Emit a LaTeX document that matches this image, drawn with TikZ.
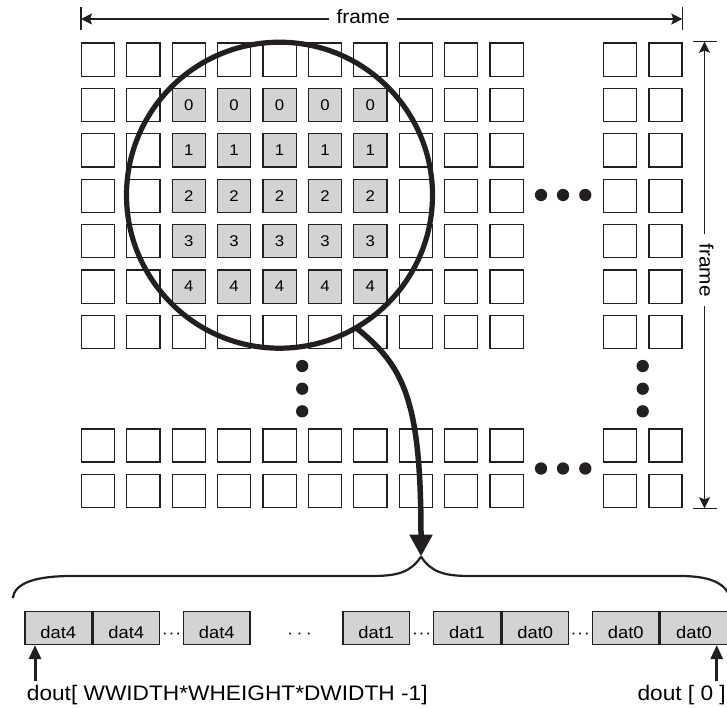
\documentclass[tikz,border=0pt]{standalone}
\usepackage{fontspec}
\setmainfont{Liberation Sans}[FakeStretch=1.08]
\usetikzlibrary{arrows.meta}
\definecolor{ink}{RGB}{35,31,32}
\definecolor{cellfill}{RGB}{210,211,213}

\begin{document}
\begin{tikzpicture}[x=1pt,y=-1pt,
    cell/.style={draw=ink,line width=1.3pt,minimum size=33.2pt,inner sep=0pt,
      font=\fontsize{15.5}{18}\selectfont},
    hot/.style={cell,fill=cellfill},
    blob/.style={circle,fill=ink,inner sep=0pt,minimum size=12.3pt},
    word/.style={draw=ink,line width=1.3pt,fill=cellfill,minimum width=66.7pt,
      minimum height=33pt,inner sep=0pt,text height=21pt,text depth=0pt,
      font=\fontsize{17}{18}\selectfont},
    dotrun/.style={inner sep=0pt,anchor=base,font=\fontsize{16.5}{18}\selectfont},
    lbl/.style={fill=white,text depth=4pt,inner xsep=7.3pt,font=\fontsize{19.3}{22}\selectfont},
    dimline/.style={draw=ink,line width=1.8pt,-{Stealth[length=11pt,width=11pt,inset=2pt]}},
    endbar/.style={draw=ink,line width=1.2pt},
    ptr/.style={draw=ink,line width=3pt,-{Triangle[length=14pt,width=12pt]}}]

\useasboundingbox (0,0) rectangle (727,707);

% pixel array, window rows 1-5 and columns 2-6 in gray
\foreach \i/\u in {0/0,1/1,2/2,3/3,4/4,5/5,6/6,7/7,8/8,9/9,10/11.5,11/12.5}
  \foreach \j/\v in {0/0,1/1,2/2,3/3,4/4,5/5,6/6,7/8.5,8/9.5} {
    \pgfmathtruncatemacro\win{(\i>1)*(\i<7)*(\j>0)*(\j<6)}
    \ifnum\win=1
      \node[hot] (c-\i-\j) at (97.95+45.4*\u,59.55+45.4*\v) {\the\numexpr\j-1\relax};
    \else
      \node[cell] (c-\i-\j) at (97.95+45.4*\u,59.55+45.4*\v) {};
    \fi
  }

% skipped columns and rows
\foreach \n/\x in {1/541,2/563,3/585.3} {
  \node[blob] (rdot-\n) at (\x,195) {};
  \node[blob] (bdot-\n) at (\x,468.5) {};
}
\foreach \n/\y in {1/366,2/388.7,3/411.3} {
  \node[blob] (mdot-\n) at (302.2,\y) {};
  \node[blob] (edot-\n) at (642.7,\y) {};
}

% window circle
\node[circle,draw=ink,line width=5.2pt,minimum size=306pt,inner sep=0pt,outer sep=0pt] (lens) at (279.5,195.2) {};

% frame width
\node[lbl] (fw) at (363.3,19) {frame};
\coordinate (fwl) at (81,19);
\coordinate (fwr) at (682.3,19);
\draw[dimline] (fw) -- (fwl);
\draw[dimline] (fw) -- (fwr);
\draw[endbar] ([yshift=12pt]fwl) -- ([yshift=-11pt]fwl);
\draw[endbar] ([yshift=12pt]fwr) -- ([yshift=-11pt]fwr);

% frame height
\node[lbl,rotate=-90,inner xsep=9pt] (fh) at (704.5,270) {frame};
\coordinate (fht) at (704.5,41.7);
\coordinate (fhb) at (704.5,508.3);
\draw[dimline] (fh) -- (fht);
\draw[dimline] (fh) -- (fhb);
\draw[endbar] ([xshift=-11.5pt]fht) -- ([xshift=12pt]fht);
\draw[endbar] ([xshift=-11.5pt]fhb) -- ([xshift=12pt]fhb);

% output word
\foreach \n/\x/\t in {1/58.2/dat4,2/126.3/dat4,3/216.7/dat4,4/376.2/dat1,
    5/467/dat1,6/535.2/dat0,7/625.7/dat0,8/694/dat0}
  \node[word] (d\n) at (\x,627.9) {\t};
\node[dotrun] (g1) at (171.5,638.3) {·\kern0.8pt·\kern0.8pt·};
\node[dotrun] (g2) at (299.5,638.3) {·\kern3.5pt·\kern3.5pt·};
\node[dotrun] (g3) at (421.7,638.3) {·\kern0.8pt·\kern0.8pt·};
\node[dotrun] (g4) at (580.2,638.3) {·\kern0.8pt·\kern0.8pt·};

% brace and zoom arrow
\coordinate (bracetip) at (421,556.5);
\draw[ink,line width=2.2pt] (bracetip) .. controls (411,572) and (398,576) .. (372,576)
  -- (72,576) .. controls (35,576) and (15,583) .. (12.7,598);
\draw[ink,line width=2.2pt] (bracetip) .. controls (431,572) and (444,576) .. (470,576)
  -- (680,576) .. controls (714,576) and (727,585) .. (731,600);
\draw[ink,line width=5.5pt,-{Triangle[length=22pt,width=22pt]}] (lens.-60)
  .. controls (404,366) and (421,400) .. (bracetip);

% bit indices
\node[anchor=base west,inner sep=0pt,font=\fontsize{21}{24}\selectfont] (msb) at (26.7,700) {dout[ WWIDTH*WHEIGHT*DWIDTH -1]};
\node[anchor=base east,inner sep=0pt,font=\fontsize{21}{24}\selectfont] (lsb) at (726,700) {dout [ 0 ]};
\coordinate (msbx) at (35,681);
\coordinate (lsbx) at (716.7,681);
\draw[ptr] (msbx) -- (msbx |- d1.south);
\draw[ptr] (lsbx) -- (lsbx |- d8.south);

\end{tikzpicture}
\end{document}
